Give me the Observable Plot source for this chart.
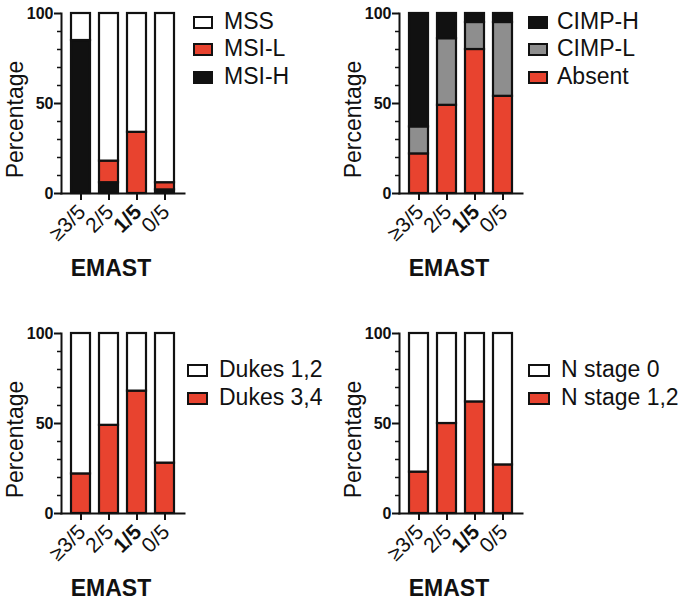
<!DOCTYPE html>
<html>
<head>
<meta charset="utf-8">
<script src="https://cdn.jsdelivr.net/npm/d3@7"></script>
<script src="https://cdn.jsdelivr.net/npm/@observablehq/plot@0.6"></script>
<style>
  body { margin: 0; background: white; }
  #wrap { position: relative; width: 685px; height: 601px; overflow: hidden; font-family: "Liberation Sans", Arial, sans-serif; }
  .panel { position: absolute; }
  .leg { position: absolute; font-size: 23px; color: #111; white-space: nowrap; line-height: 1; }
  .sw { position: absolute; border: 2px solid #111; box-sizing: border-box; }
</style>
</head>
<body>
<div id="wrap"></div>
<script>
const emast = ["≥3/5", "2/5", "1/5", "0/5"];
const boldCat = ["1/5"];
const plainCats = ["≥3/5", "2/5", "0/5"];
const yMajor = [0, 50, 100];
const yMinor = [10, 20, 30, 40, 60, 70, 80, 90];

// Panel A: MSI status (bottom -> top)
const msiNames = ["MSI-H", "MSI-L", "MSS"];
const msiH = [85, 6, 0, 2];
const msiL = [0, 12, 34, 4];
const mss = [15, 82, 66, 94];

// Panel B: CIMP status (bottom -> top)
const cimpNames = ["Absent", "CIMP-L", "CIMP-H"];
const cimpAbsent = [22, 49, 80, 54];
const cimpL = [15, 37, 15, 41];
const cimpH = [63, 14, 5, 5];

// Panel C: Dukes stage (bottom -> top)
const dukesNames = ["Dukes 3,4", "Dukes 1,2"];
const dukes34 = [22, 49, 68, 28];
const dukes12 = [78, 51, 32, 72];

// Panel D: N stage (bottom -> top)
const nNames = ["N stage 1,2", "N stage 0"];
const n12 = [23, 50, 62, 27];
const n0 = [77, 50, 38, 73];

const RED = "#e8432f", GRAY = "#8e8e8e", BLACK = "#111111", WHITE = "#ffffff";
const FONT = "'Liberation Sans', Arial, sans-serif";

function rows(names, series) {
  const out = [];
  emast.forEach((c, i) => {
    names.forEach((n, j) => out.push({cat: c, series: n, value: series[j][i]}));
  });
  return out;
}

function panel(names, series, colors) {
  const data = rows(names, series);
  const xLab = (cats, weight) => Plot.text(cats, {
    x: d => d, text: d => d, frameAnchor: "bottom", textAnchor: "end", lineAnchor: "middle",
    rotate: -45, dx: 1, dy: 15, fontSize: 21, fontWeight: weight, fill: "#111"
  });
  return Plot.plot({
    width: 190, height: 285,
    marginLeft: 61, marginRight: 6, marginTop: 13, marginBottom: 92,
    style: {fontFamily: FONT, color: "#111", background: "white", overflow: "visible"},
    x: {domain: emast, paddingInner: 0.304, paddingOuter: 0.348, label: null},
    y: {domain: [0, 100], label: null},
    color: {domain: names, range: colors},
    marks: [
      Plot.barY(data, {x: "cat", y: "value", fill: "series", stroke: "#111", strokeWidth: 2.2}),
      Plot.axisY(yMinor, {tickSize: 4, tickFormat: () => "", strokeWidth: 1.5, label: null}),
      Plot.axisY(yMajor, {tickSize: 7, tickFormat: () => "", strokeWidth: 2, label: null}),
      Plot.text(yMajor, {y: d => d, text: d => String(d), frameAnchor: "left", textAnchor: "end", lineAnchor: "middle",
        dx: -8, fontSize: 16, fontWeight: "bold", fill: "#111"}),
      Plot.axisX(emast, {tickSize: 7, tickFormat: () => "", strokeWidth: 2, label: null}),
      xLab(plainCats, "normal"),
      xLab(boldCat, "bold"),
      Plot.frame({anchor: "left", stroke: "#111", strokeWidth: 2}),
      Plot.frame({anchor: "bottom", stroke: "#111", strokeWidth: 2}),
      Plot.text(["Percentage"], {text: d => d, frameAnchor: "left", textAnchor: "middle", lineAnchor: "middle",
        rotate: -90, dx: -46, dy: 16, fontSize: 23, fill: "#111"}),
      Plot.text(["EMAST"], {text: d => d, frameAnchor: "bottom", textAnchor: "middle", lineAnchor: "middle",
        dx: -12, dy: 75, fontSize: 23, fontWeight: "bold", fill: "#111"})
    ]
  });
}

const wrap = document.getElementById("wrap");
function place(el, left, top) {
  el.classList.add("panel");
  el.style.left = left + "px";
  el.style.top = top + "px";
  wrap.appendChild(el);
}
function legend(items, swLeft, swW, textLeft, centers) {
  items.forEach(([name, color], i) => {
    const sw = document.createElement("div");
    sw.className = "sw";
    sw.style.left = swLeft + "px";
    sw.style.top = (centers[i] - 6) + "px";
    sw.style.width = swW + "px";
    sw.style.height = "13px";
    sw.style.background = color;
    wrap.appendChild(sw);
    const t = document.createElement("div");
    t.className = "leg";
    t.textContent = name;
    t.style.left = textLeft + "px";
    t.style.top = (centers[i] - 12) + "px";
    wrap.appendChild(t);
  });
}

place(panel(msiNames, [msiH, msiL, mss], [BLACK, RED, WHITE]), 0, 0);
place(panel(cimpNames, [cimpAbsent, cimpL, cimpH], [RED, GRAY, BLACK]), 338, 0);
place(panel(dukesNames, [dukes34, dukes12], [RED, WHITE]), 0, 320);
place(panel(nNames, [n12, n0], [RED, WHITE]), 338, 320);

legend([["MSS", WHITE], ["MSI-L", RED], ["MSI-H", BLACK]], 193, 20, 224, [22, 49, 77]);
legend([["CIMP-H", BLACK], ["CIMP-L", GRAY], ["Absent", RED]], 528, 20, 557, [22, 49, 77]);
legend([["Dukes 1,2", WHITE], ["Dukes 3,4", RED]], 187, 21, 219, [370, 398]);
legend([["N stage 0", WHITE], ["N stage 1,2", RED]], 528, 22, 561, [370, 398]);
</script>
</body>
</html>
